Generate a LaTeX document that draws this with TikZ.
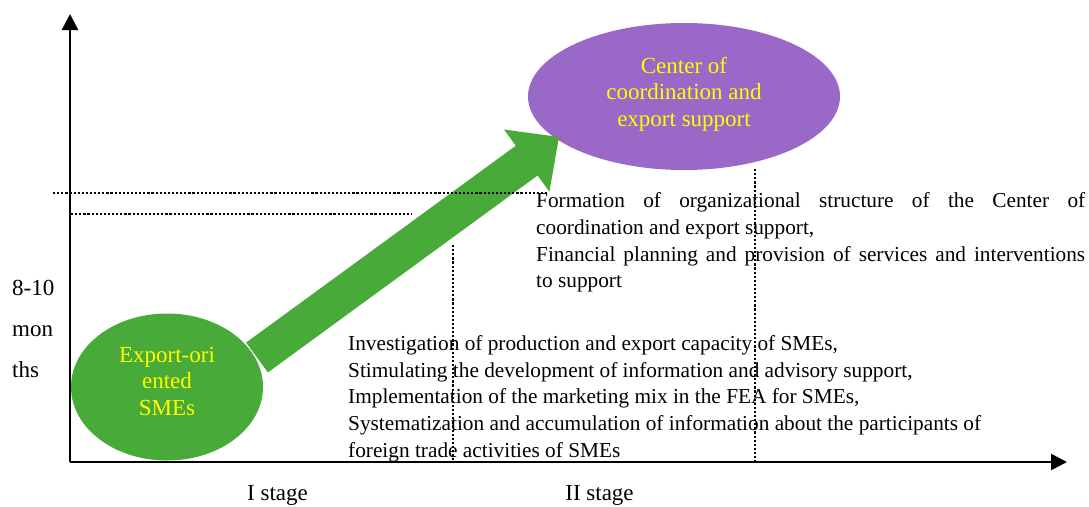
\documentclass[tikz,border=0pt]{standalone}
\usepackage{fontspec}
\setmainfont{Liberation Serif}
\usetikzlibrary{arrows.meta,shapes.geometric}
\definecolor{smegreen}{RGB}{72,170,56}
\definecolor{centerpurple}{RGB}{154,104,198}
\definecolor{labelyellow}{RGB}{255,255,0}
\tikzset{
  axis/.style={line width=2.6pt,-{Triangle[length=16pt,width=16pt]}},
  dotline/.style={line width=2.4pt,dash pattern=on 2.2pt off 1.9pt},
  bubble/.style={ellipse,inner sep=0pt,text=labelyellow,align=center,
    font=\fontsize{23}{26.5}\selectfont},
  bodytext/.style={inner sep=0pt,align=left,anchor=north west,
    font=\fontsize{21.3}{26.7}\selectfont},
  stagelabel/.style={inner sep=0pt,anchor=base,font=\fontsize{23}{27}\selectfont},
  bigarrow/.style={fill=smegreen}
}
\begin{document}
\begin{tikzpicture}[x=1pt,y=-1pt]
\useasboundingbox (0,0) rectangle (1089,506);
% axes
\coordinate (origin) at (70,462);
\coordinate (ytip) at (70,14);
\coordinate (xtip) at (1067,462);
\draw[axis] (origin) -- (ytip);
\draw[axis] (origin) -- (xtip);
% ellipses
\node[bubble,fill=smegreen,minimum width=192pt,minimum height=147pt,text depth=12pt] (sme) at (167,387) {Export-ori\\ented\\SMEs};
\node[bubble,fill=centerpurple,minimum width=312pt,minimum height=147pt,text depth=9.5pt] (center) at (684,96.5) {Center of\\coordination and\\export support};
% lower dotted line (under the arrow)
\coordinate (l2a) at (71,214);
\coordinate (l2b) at (412,214);
\draw[dotline] (l2a) -- (l2b);
% big arrow
\coordinate (a1) at (267.9,372.4);
\coordinate (a2) at (537.6,175.5);
\coordinate (a3) at (549.4,191.7);
\coordinate (atip) at (559,137);
\coordinate (a5) at (504.0,129.5);
\coordinate (a6) at (515.8,145.7);
\coordinate (a7) at (246.1,342.6);
\fill[bigarrow] (a1) -- (a2) -- (a3) -- (atip) -- (a5) -- (a6) -- (a7) -- cycle;
% upper dotted line
\coordinate (l1a) at (53,193);
\coordinate (l1b) at (547,193);
\draw[dotline] (l1a) -- (l1b);
% vertical dotted lines
\coordinate (v1a) at (453,245);
\coordinate (v1b) at (453,462);
\coordinate (v2a) at (755,169);
\coordinate (v2b) at (755,462);
\draw[dotline] (v1a) -- (v1b);
\draw[dotline] (v2a) -- (v2b);
% texts
\node[bodytext] (stage2text) at (536,192.5) {\makebox[549pt][s]{Formation of organizational structure of the Center of}\\
coordination and export support,\\
\makebox[549pt][s]{Financial planning and provision of services and interventions}\\
to support};
\node[bodytext] (stage1text) at (348,335.3) {Investigation of production and export capacity of SMEs,\\
Stimulating the development of information and advisory support,\\
Implementation of the marketing mix in the FEA for SMEs,\\
Systematization and accumulation of information about the participants of\\
foreign trade activities of SMEs};
\node[inner sep=0pt,anchor=north west,align=left,font=\fontsize{23}{41}\selectfont] (months) at (12,279.5) {8-10\\mon\\ths};
\node[stagelabel] (stage1) at (277.5,500) {I stage};
\node[stagelabel] (stage2) at (599.5,500) {II stage};
\end{tikzpicture}
\end{document}
